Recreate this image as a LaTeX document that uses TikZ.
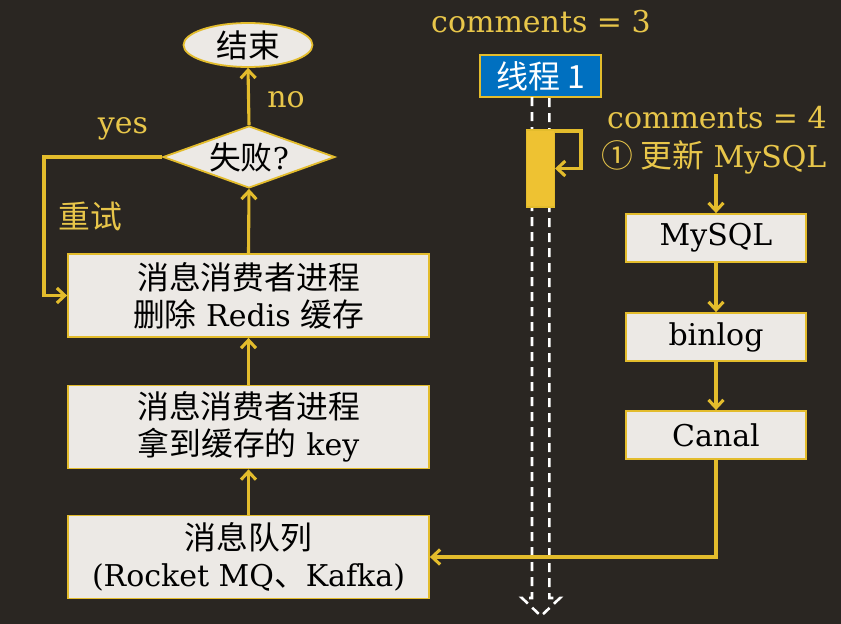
\documentclass[tikz,border=0pt]{standalone}
\usepackage{fontspec}
\setmainfont{DejaVu Serif}
\newfontfamily\cjk[Scale=1.06]{Noto Sans CJK SC}
\newfontfamily\cjkplain{Noto Sans CJK SC}
\usetikzlibrary{shapes.geometric,arrows.meta}
\definecolor{bg}{HTML}{2A2622}
\definecolor{gold}{HTML}{E3BC2C}
\definecolor{txtgold}{HTML}{E8C64A}
\definecolor{boxfill}{HTML}{ECE9E5}
\definecolor{blueone}{HTML}{0070C0}
\definecolor{actfill}{HTML}{EEC232}
\begin{document}
\begin{tikzpicture}[x=1pt,y=-1pt,
  conn/.style={draw=gold,line width=3.1pt,-{Straight Barb[length=8pt,width=15pt]}},
  box/.style={draw=gold,line width=1.8pt,fill=boxfill,inner sep=0pt,align=center,
    minimum width=361pt,minimum height=83pt,font=\fontsize{30}{37}\selectfont},
  sbox/.style={draw=gold,line width=1.8pt,fill=boxfill,inner sep=0pt,align=center,
    minimum width=180pt,minimum height=48pt,font=\fontsize{30}{37}\selectfont},
  lbl/.style={text=txtgold,inner sep=0pt,font=\fontsize{30}{34}\selectfont},
  lifeline/.style={draw=white,line width=2.6pt,dash pattern=on 9pt off 6pt}
]
\fill[bg] (0,0) rectangle (841,624);
% left flow
\node[ellipse,draw=gold,line width=1.8pt,fill=boxfill,minimum width=129pt,minimum height=44pt,inner sep=0pt,
  font=\fontsize{30}{32}\selectfont] (end) at (248,45) {\cjk 结束};
\node[diamond,draw=gold,line width=1.8pt,fill=boxfill,minimum width=172pt,minimum height=62pt,inner sep=0pt,
  label={[font=\fontsize{30}{32}\selectfont,inner sep=0pt]center:{\cjk 失败}?}] (dia) at (249,157) {};
\node[box] (b1) at (248.5,295.5) {{\cjk 消息消费者进程}\\{\cjk 删除} Redis {\cjk 缓存}};
\node[box] (b2) at (248.5,427) {{\cjk 消息消费者进程}\\{\cjk 拿到缓存的} key};
\node[box] (mq) at (248.5,557) {{\cjk 消息队列}\\(Rocket MQ{\cjk 、}Kafka)};
\node[lbl] (no) at (286,100) {no};
\node[lbl] (yes) at (123,129) {yes};
\node[lbl] (retry) at (90,216) {\cjk 重试};
\draw[conn] (dia.north) -- (end.south);
\draw[conn] (b1.north) -- (dia.south);
\draw[conn] (b2.north) -- (b1.south);
\draw[conn] (mq.north) -- (b2.south);
\coordinate (yc) at (44,157);
\draw[conn] (dia.west) -- (yc) |- (b1.west);
% thread
\node[lbl] (c3) at (541,22) {comments = 3};
\node[draw=gold,line width=1.8pt,fill=blueone,text=white,minimum width=121pt,minimum height=42pt,inner sep=0pt,
  font=\fontsize{32}{34}\selectfont] (t1) at (540.5,76) {\cjkplain 线程 1};
\coordinate (ll1) at (532,97);
\coordinate (ll2) at (549.3,97);
\coordinate (lb1) at (532,598);
\coordinate (lb2) at (549.3,598);
\draw[lifeline] (ll1) -- (lb1) -- (522,598) -- (541,616) -- (560,598) -- (lb2) -- (ll2);
\node[draw=gold,line width=1.4pt,fill=actfill,minimum width=27.6pt,minimum height=76.7pt,inner sep=0pt] (act) at (540.5,168.5) {};
\draw[conn] ([yshift=-1.5pt]act.north east) -- ++(26,0) |- (act.east);
% right column
\node[lbl] (c4) at (717,118) {comments = 4};
\node[lbl] (upd) at (714,157) {{\cjk ①\ 更新}\ MySQL};
\node[sbox] (mysql) at (716,238) {MySQL};
\node[sbox] (binlog) at (716,337) {binlog};
\node[sbox] (canal) at (716,435) {Canal};
\draw[conn] (upd.south -| mysql.north) -- (mysql.north);
\draw[conn] (mysql.south) -- (binlog.north);
\draw[conn] (binlog.south) -- (canal.north);
\draw[conn] (canal.south) |- (mq.east);
\end{tikzpicture}
\end{document}
